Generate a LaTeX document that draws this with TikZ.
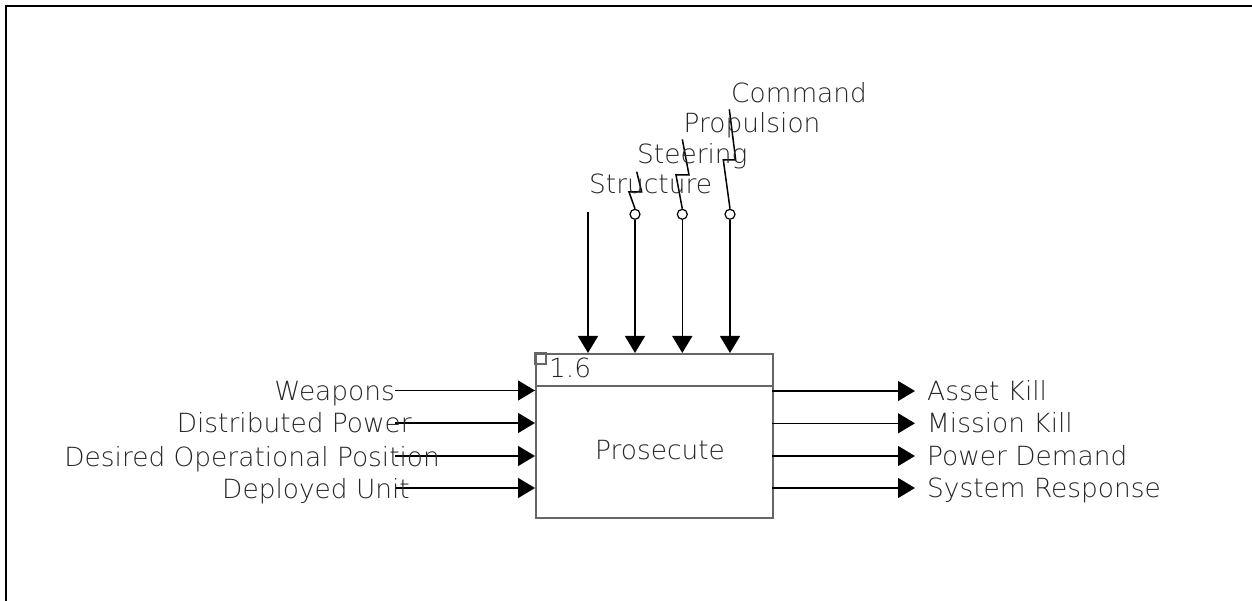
\documentclass[tikz,border=0pt]{standalone}
\usepackage{fontspec}
\setmainfont{DejaVu Sans ExtraLight}
\usetikzlibrary{arrows.meta}
\begin{document}
\begin{tikzpicture}[x=1pt,y=-1pt,
  lbl/.style={inner sep=0pt, font=\fontsize{26.4}{30}\selectfont, text=black!85},
  flow/.style={line width=1.5pt, -{Triangle[length=17pt,width=20pt]}},
  plain/.style={line width=1.5pt},
  boxline/.style={line width=1.5pt, draw=black!60}]
\useasboundingbox (0,0) rectangle (1252,601);
\draw[line width=1.5pt] (6,601) -- (6,6) -- (1252,6);
% function box
\node[boxline, draw, minimum width=237pt, minimum height=164pt, inner sep=0pt, anchor=north west] (box) at (535,353) {};
\coordinate (divL) at (535,386);
\coordinate (divR) at (772,386);
\draw[boxline] (divL) -- (divR);
\coordinate (sqA) at (535,353);
\coordinate (sqB) at (546,364);
\draw[boxline, line width=1.1pt] (sqA) rectangle (sqB);
\node[lbl, anchor=base west] (num) at (549,377) {1.6};
\node[lbl, anchor=base] (fn) at (660,459) {Prosecute};
% inputs
\foreach \n/\y in {1/390.5,2/423,3/456,4/488}{
  \coordinate (in\n s) at (395,\y);
  \coordinate (in\n e) at (535,\y);
  \draw[flow] (in\n s) -- (in\n e);
}
\node[lbl, anchor=base east] (w) at (395,400.7) {Weapons};
\node[lbl, anchor=base east] (dp) at (412,432.7) {Distributed Power};
\node[lbl, anchor=base east] (dop) at (440,466) {Desired Operational Position};
\node[lbl, anchor=base east] (du) at (410,498) {Deployed Unit};
% outputs
\foreach \n/\y in {1/391,2/423.3,3/456,4/488}{
  \coordinate (out\n s) at (772,\y);
  \coordinate (out\n e) at (915,\y);
  \draw[flow] (out\n s) -- (out\n e);
}
\node[lbl, anchor=base west] (ak) at (927,400) {Asset Kill};
\node[lbl, anchor=base west] (mk) at (927,432.7) {Mission Kill};
\node[lbl, anchor=base west] (pd) at (927,465) {Power Demand};
\node[lbl, anchor=base west] (sr) at (927,497.5) {System Response};
% controls
\coordinate (c1t) at (588,212);
\coordinate (c1b) at (588,353);
\draw[flow] (c1t) -- (c1b);
\foreach \n/\x in {2/635,3/682.3,4/730}{
  \node[circle, draw, line width=1.2pt, minimum size=10pt, inner sep=0pt] (o\n) at (\x,214.3) {};
  \coordinate (c\n b) at (\x,353);
  \draw[flow] (o\n.south) -- (c\n b);
}
\draw[plain] (o2.north) -- (629,192) -- (641.7,192) -- (636.7,171.7);
\draw[plain] (o3.north) -- (676,175) -- (689,175) -- (682.3,139.3);
\draw[plain] (o4.north) -- (723.3,160) -- (735.7,160) -- (729.3,109.3);
\node[lbl, anchor=base west] (st) at (589,194) {Structure};
\node[lbl, anchor=base west] (se) at (637,164) {Steering};
\node[lbl, anchor=base west] (pr) at (683.5,133) {Propulsion};
\node[lbl, anchor=base west] (cm) at (731,103) {Command};
\end{tikzpicture}
\end{document}
